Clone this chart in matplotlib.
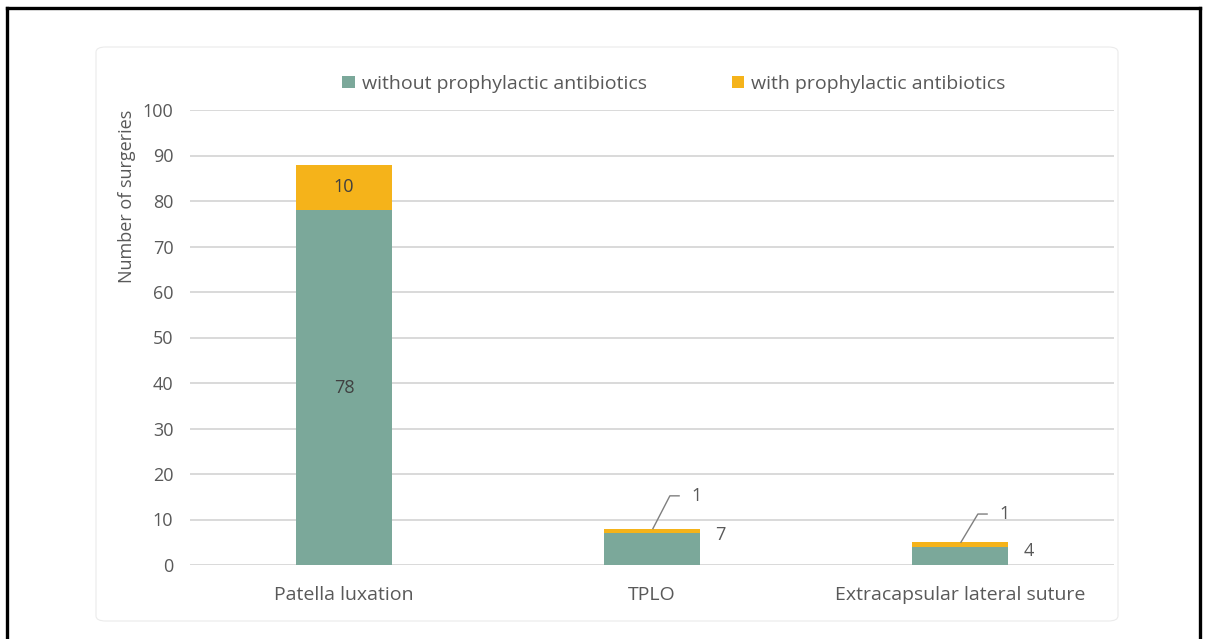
import numpy as np
import matplotlib
matplotlib.use("Agg")
from matplotlib import pyplot as plt
import matplotlib.patches as patches
from matplotlib.lines import Line2D

# surgery counts per procedure
procedures = ["Patella luxation", "TPLO", "Extracapsular lateral suture"]
without_abx = [78, 7, 4]
with_abx = [10, 1, 1]
series_names = ["without prophylactic antibiotics", "with prophylactic antibiotics"]
yticks = list(range(0, 101, 10))

TEAL = "#7BA89A"
GOLD = "#F5B31A"
GREY_TXT = "#595959"

plt.rcParams['font.family'] = ['Open Sans', 'DejaVu Sans']

W, H = 1206, 639
fig = plt.figure(figsize=(W / 100, H / 100), dpi=100)


def px(x, y):
    # pixel position (top-left origin) -> figure fraction
    return x / W, 1 - y / H


# outer black frame (bottom edge falls outside the canvas)
for (x0, y0), (x1, y1) in [((7, 640), (7, 8)), ((7, 8), (1200, 8)), ((1200, 8), (1200, 640))]:
    a, b = px(x0, y0)
    c, d = px(x1, y1)
    fig.add_artist(Line2D([a, c], [b, d], color="black", lw=2.4, transform=fig.transFigure))

# faint rounded chart area
x0, y0 = px(96, 621)
x1, y1 = px(1118, 47)
fig.add_artist(patches.FancyBboxPatch((x0, y0), x1 - x0, y1 - y0,
                                      boxstyle="round,pad=0,rounding_size=0.008",
                                      transform=fig.transFigure, facecolor="white",
                                      edgecolor="#EBEBEB", lw=0.8, zorder=0))

l, b = px(190, 565)
r, t = px(1114, 110)
ax = fig.add_axes([l, b, r - l, t - b])
ax.set_facecolor("none")

x = np.arange(len(procedures))
width = 0.31
ax.bar(x, without_abx, width, color=TEAL, label=series_names[0], zorder=3)
ax.bar(x, with_abx, width, bottom=without_abx, color=GOLD, label=series_names[1], zorder=3)

ax.set_xlim(-0.5, len(procedures) - 0.5)
ax.set_ylim(0, 100)
ax.set_yticks(yticks)
ax.set_xticks(x)
ax.set_xticklabels(procedures, fontsize=14, color=GREY_TXT)
ax.tick_params(axis="y", labelsize=13, colors=GREY_TXT, length=0, pad=12)
ax.tick_params(axis="x", length=0, pad=15)
ax.grid(axis="y", color="#D9D9D9", lw=1.4, zorder=0)
for s in ax.spines.values():
    s.set_visible(False)
ax.set_ylabel("Number of surgeries", fontsize=13, color=GREY_TXT, labelpad=5, loc="top")

# value labels: inside the tall bar, beside the short ones
ax.text(x[0], without_abx[0] / 2, str(without_abx[0]), ha="center", va="center",
        fontsize=13, color="#404040", zorder=4)
ax.text(x[0], without_abx[0] + with_abx[0] / 2, str(with_abx[0]), ha="center", va="center",
        fontsize=13, color="#404040", zorder=4)

leader = {1: (15.2, 6.6), 2: (11.2, 3.0)}
for i, (y_top, y_side) in leader.items():
    top = without_abx[i] + with_abx[i]
    ax.plot([x[i] + 0.003, x[i] + 0.058, x[i] + 0.088], [top, y_top, y_top],
            color="#7F7F7F", lw=1.0, zorder=4, clip_on=False)
    ax.text(x[i] + 0.146, y_top, str(with_abx[i]), ha="center", va="center",
            fontsize=13, color=GREY_TXT)
    ax.text(x[i] + 0.222, y_side, str(without_abx[i]), ha="center", va="center",
            fontsize=13, color=GREY_TXT)

lx, ly = px(674, 84)
leg = fig.legend(loc="center", bbox_to_anchor=(lx, ly), ncol=2, frameon=False,
                 fontsize=14, handlelength=0.62, handleheight=0.62,
                 handletextpad=0.36, columnspacing=4.4)
for txt in leg.get_texts():
    txt.set_color(GREY_TXT)

fig.savefig("out.png", dpi=100)
